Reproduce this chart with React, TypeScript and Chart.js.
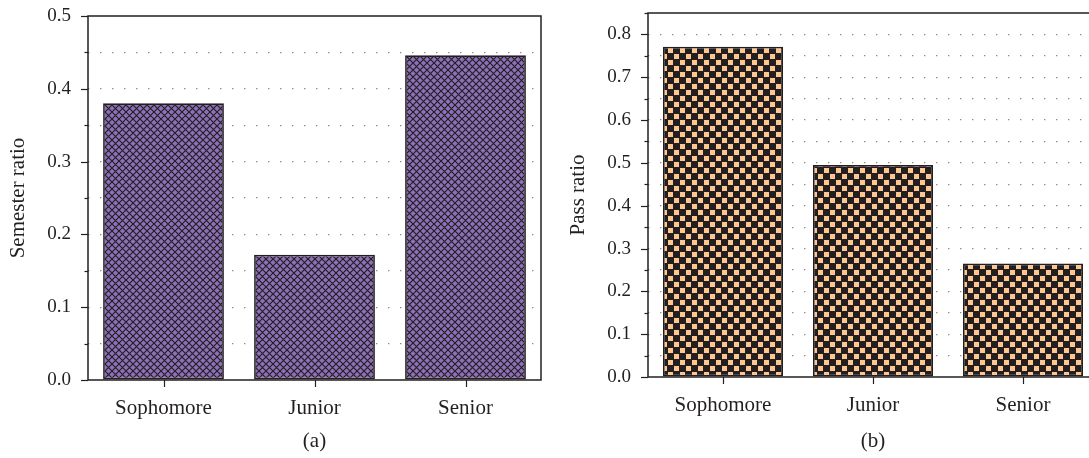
import React, { useEffect, useRef } from "react";
import { Chart, registerables } from "chart.js";

Chart.register(...registerables);

// ---- data ----
const categories = ["Sophomore", "Junior", "Senior"];
const semesterRatio = [0.38, 0.172, 0.446];
const passRatio = [0.771, 0.495, 0.265];
const semesterAxisMax = 0.5;
const passAxisMax = 0.85;
const axisStep = 0.05;
const captionA = "(a)";
const captionB = "(b)";
const titleA = "Semester ratio";
const titleB = "Pass ratio";

// ---- styles ----
const INK = "#231f20";
const GRID = "#8c8c8c";
const FONT = "'Liberation Serif', 'Times New Roman', serif";
const PURPLE = "#8d70b9";
const PEACH = "#ffc68e";

function hatchPattern(): CanvasPattern | string {
  const c = document.createElement("canvas");
  const s = 7;
  c.width = s;
  c.height = s;
  const g = c.getContext("2d");
  if (!g) return PURPLE;
  g.fillStyle = PURPLE;
  g.fillRect(0, 0, s, s);
  g.strokeStyle = INK;
  g.lineWidth = 1.15;
  g.beginPath();
  g.moveTo(-1, -1);
  g.lineTo(s + 1, s + 1);
  g.moveTo(s + 1, -1);
  g.lineTo(-1, s + 1);
  g.stroke();
  const p = g.createPattern(c, "repeat");
  return p || PURPLE;
}

function checkerPattern(): CanvasPattern | string {
  const c = document.createElement("canvas");
  const s = 12;
  c.width = s;
  c.height = s;
  const g = c.getContext("2d");
  if (!g) return PEACH;
  g.fillStyle = INK;
  g.fillRect(0, 0, s, s);
  g.fillStyle = PEACH;
  g.fillRect(0, 0, 5, 5);
  g.fillRect(6, 6, 5, 5);
  const p = g.createPattern(c, "repeat");
  return p || PEACH;
}

const isMajor = (v: number) => Math.abs(v * 10 - Math.round(v * 10)) < 1e-6;

const framePlugin = {
  id: "frame",
  afterDraw(chart: any) {
    const { ctx, chartArea: a, scales } = chart;
    ctx.save();
    ctx.strokeStyle = INK;
    ctx.lineWidth = 1.5;
    ctx.strokeRect(a.left, a.top, a.right - a.left, a.bottom - a.top);
    ctx.lineWidth = 1.2;
    const y = scales.y;
    y.ticks.forEach((t: any, i: number) => {
      const py = Math.round(y.getPixelForTick(i)) + 0.5;
      const len = isMajor(t.value) ? 7 : 3.5;
      ctx.beginPath();
      ctx.moveTo(a.left - len, py);
      ctx.lineTo(a.left, py);
      ctx.stroke();
    });
    const x = scales.x;
    x.ticks.forEach((_t: any, i: number) => {
      const px = Math.round(x.getPixelForTick(i)) + 0.5;
      ctx.beginPath();
      ctx.moveTo(px, a.bottom);
      ctx.lineTo(px, a.bottom + 7);
      ctx.stroke();
    });
    ctx.restore();
  },
};

function makeConfig(
  values: number[],
  fill: CanvasPattern | string,
  max: number,
  yTitle: string,
  caption: string,
  padTop: number,
  padRight: number,
  xHeight: number
): any {
  return {
    type: "bar",
    data: {
      labels: categories,
      datasets: [
        {
          data: values,
          backgroundColor: fill,
          borderColor: INK,
          borderWidth: 1.7,
          borderSkipped: false,
          barPercentage: 0.8,
          categoryPercentage: 1.0,
        },
      ],
    },
    options: {
      responsive: false,
      animation: false,
      layout: { padding: { top: padTop, right: padRight, left: 0, bottom: 0 } },
      plugins: {
        legend: { display: false },
        tooltip: { enabled: false },
      },
      scales: {
        x: {
          grid: { display: false, drawTicks: false },
          border: { display: false },
          ticks: {
            color: INK,
            padding: 16,
            font: { family: FONT, size: 21 },
            maxRotation: 0,
          },
          title: {
            display: true,
            text: caption,
            color: INK,
            font: { family: FONT, size: 21 },
            padding: { top: 0, bottom: 4 },
          },
          afterFit: (s: any) => {
            s.height = xHeight;
            s.paddingLeft = 0;
            s.paddingRight = 0;
            s.paddingTop = 0;
            s.paddingBottom = 0;
          },
        },
        y: {
          min: 0,
          max: max,
          grid: {
            drawTicks: false,
            lineWidth: 1.2,
            color: (c: any) => {
              const v = c.tick ? c.tick.value : 0;
              if (Math.abs(v) < 1e-9 || Math.abs(v - max) < 1e-9) return "rgba(0,0,0,0)";
              return GRID;
            },
          },
          border: { display: false, dash: [1.4, 10.6] },
          ticks: {
            stepSize: axisStep,
            autoSkip: false,
            color: INK,
            padding: 17,
            font: { family: FONT, size: 19 },
            callback: (v: any) => (isMajor(Number(v)) ? Number(v).toFixed(1) : ""),
          },
          title: {
            display: true,
            text: yTitle,
            color: INK,
            font: { family: FONT, size: 21 },
            padding: { top: 6, bottom: 0 },
          },
          afterFit: (s: any) => {
            s.width = 88;
            s.paddingTop = 0;
            s.paddingBottom = 0;
            s.paddingLeft = 0;
            s.paddingRight = 0;
          },
        },
      },
    },
    plugins: [framePlugin],
  };
}

function BarPanel(props: {
  values: number[];
  kind: "hatch" | "checker";
  max: number;
  yTitle: string;
  caption: string;
  left: number;
  width: number;
  padTop: number;
  padRight: number;
  xHeight: number;
}) {
  const ref = useRef<HTMLCanvasElement | null>(null);
  useEffect(() => {
    if (!ref.current) return;
    const fill = props.kind === "hatch" ? hatchPattern() : checkerPattern();
    const chart = new Chart(
      ref.current,
      makeConfig(props.values, fill, props.max, props.yTitle, props.caption, props.padTop, props.padRight, props.xHeight)
    );
    return () => chart.destroy();
  }, []);
  return (
    <canvas
      ref={ref}
      width={props.width}
      height={458}
      style={{ position: "absolute", left: props.left, top: 0, width: props.width, height: 458 }}
    />
  );
}

export default function App() {
  return (
    <div
      style={{
        position: "fixed",
        left: 0,
        top: 0,
        width: 1089,
        height: 458,
        overflow: "hidden",
        background: "#ffffff",
      }}
    >
      <BarPanel
        values={semesterRatio}
        kind="hatch"
        max={semesterAxisMax}
        yTitle={titleA}
        caption={captionA}
        left={0}
        width={552}
        padTop={16}
        padRight={11}
        xHeight={78}
      />
      <BarPanel
        values={passRatio}
        kind="checker"
        max={passAxisMax}
        yTitle={titleB}
        caption={captionB}
        left={560}
        width={545}
        padTop={13}
        padRight={7}
        xHeight={81}
      />
    </div>
  );
}
